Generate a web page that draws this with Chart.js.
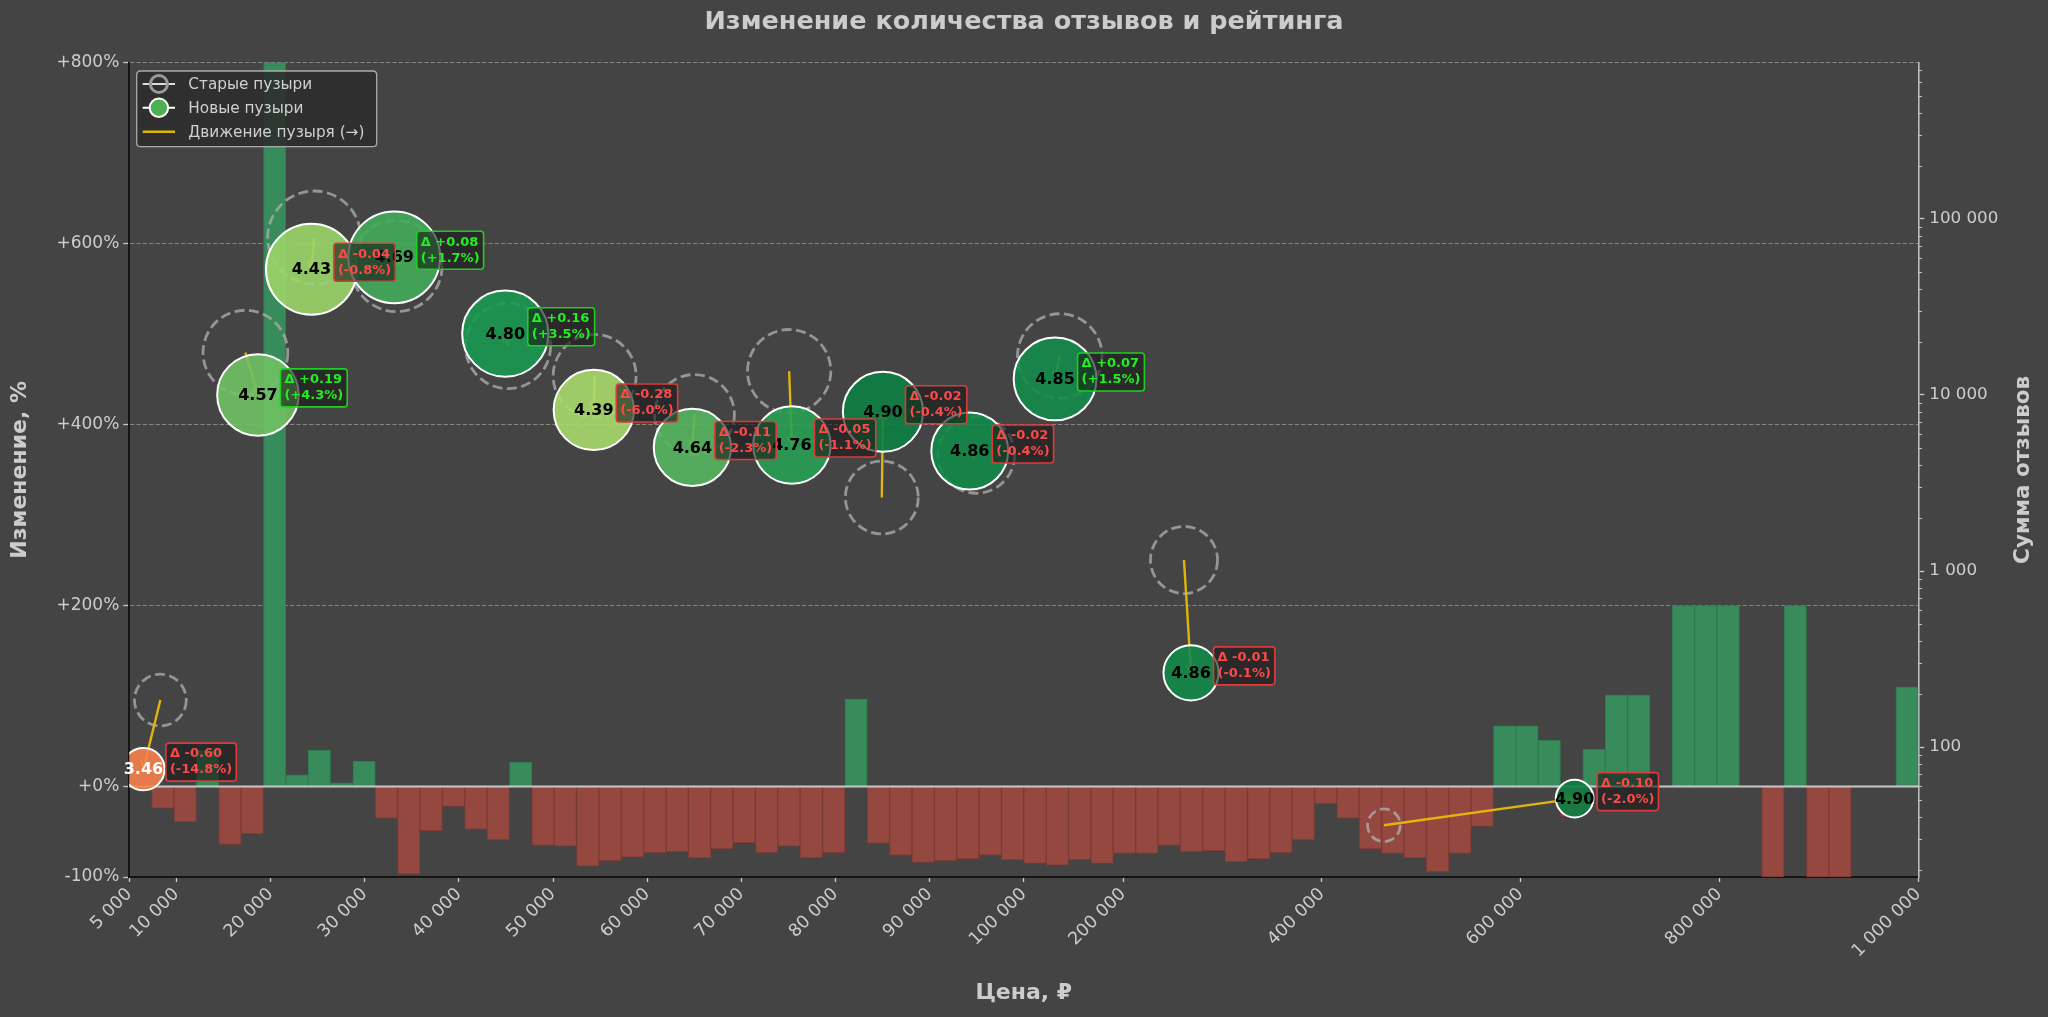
<!DOCTYPE html>
<html lang="ru">
<head>
<meta charset="utf-8">
<title>Изменение количества отзывов и рейтинга</title>
<script src="https://cdn.jsdelivr.net/npm/chart.js"></script>
<style>
html, body { margin:0; padding:0; background:#444444; overflow:hidden; }
#wrap { position:relative; width:2048px; height:1017px; }
</style>
</head>
<body>
<div id="wrap"><canvas id="chart" width="2048" height="1017"></canvas></div>
<script>
// ================= DATA =================
// Price bins (lower edges, ₽): 40 bins 5 000–100 000 and 40 bins 100 000–1 000 000
const binLow = [
  5000, 7375, 9750, 12125, 14500, 16875, 19250, 21625, 24000, 26375,
  28750, 31125, 33500, 35875, 38250, 40625, 43000, 45375, 47750, 50125,
  52500, 54875, 57250, 59625, 62000, 64375, 66750, 69125, 71500, 73875,
  76250, 78625, 81000, 83375, 85750, 88125, 90500, 92875, 95250, 97625,
  100000, 122500, 145000, 167500, 190000, 212500, 235000, 257500, 280000, 302500,
  325000, 347500, 370000, 392500, 415000, 437500, 460000, 482500, 505000, 527500,
  550000, 572500, 595000, 617500, 640000, 662500, 685000, 707500, 730000, 752500,
  775000, 797500, 820000, 842500, 865000, 887500, 910000, 932500, 955000, 977500
];
const binHigh = 1000000;

// Change of review count per price bin, %
const binChangePct = [
  null, -24, -39, 40, -64, -52, 1200, 13, 40, 4,
  28, -35, -97, -49, -22, -47, -59, 27, -65, -66,
  -88, -82, -78, -73, -72, -79, -69, -62, -73, -66,
  -79, -73, 97, -63, -76, -84, -82, -80, -76, -81,
  -85, -87, -81, -85, -74, -74, -65, -72, -71, -83,
  -80, -73, -59, -19, -35, -69, -74, -79, -94, -74,
  -44, 67, 67, 51, -33, 41, 101, 101, null, 200,
  200, 200, null, -100, 200, -100, -100, null, null, 110
];

const tickPrices = [5000, 10000, 20000, 30000, 40000, 50000, 60000, 70000, 80000, 90000,
                    100000, 200000, 400000, 600000, 800000, 1000000];
const leftTicks = [-100, 0, 200, 400, 600, 800];
const rightTicks = [100, 1000, 10000, 100000];

// Bubbles (price groups): rating, delta, old/new position (price, review sum)
const groupRating    = [3.46, 4.57, 4.43, 4.69, 4.80, 4.39, 4.64, 4.76, 4.90, 4.86, 4.85, 4.86, 4.90];
const ratingDelta    = [-0.60, 0.19, -0.04, 0.08, 0.16, -0.28, -0.11, -0.05, -0.02, -0.02, 0.07, -0.01, -0.10];
const ratingDeltaPct = [-14.8, 4.3, -0.8, 1.7, 3.5, -6.0, -2.3, -1.1, -0.4, -0.4, 1.5, -0.1, -2.0];
const oldPrice   = [8300, 17330, 24640, 33380, 45220, 54420, 65020, 75080, 84920, 94960, 136220, 261170, 462300];
const newPrice   = [6500, 18660, 24340, 33140, 44930, 54330, 64800, 75370, 85040, 94260, 131470, 268250, 654200];
const oldReviews = [185, 17380, 78260, 53950, 18960, 12820, 7740, 13640, 2616, 4560, 16630, 1155, 36];
const newReviews = [75, 10000, 51700, 60460, 22270, 8212, 5030, 5195, 8020, 4804, 12320, 264, 51];

// ================= HELPERS =================
const edges = binLow.concat([binHigh]);
function pos(p) {
  for (let i = 0; i < binLow.length; i++) {
    if (p < edges[i + 1] || i === binLow.length - 1) return i + (p - edges[i]) / (edges[i + 1] - edges[i]);
  }
  return 0;
}
function fmt(v) { return Math.round(v).toString().replace(/\B(?=(\d{3})+(?!\d))/g, ' '); }
function rFor(n) { return Math.sqrt(Math.max(570 * Math.log10(n) - 620, 100)); }

const RDYLGN = ['#a50026','#d73027','#f46d43','#fdae61','#fee08b','#ffffbf','#d9ef8b','#a6d96a','#66bd63','#1a9850','#006837'];
function hexRgb(h) { return [parseInt(h.slice(1,3),16), parseInt(h.slice(3,5),16), parseInt(h.slice(5,7),16)]; }
function ratingColor(r, a) {
  const t = Math.min(1, Math.max(0, (r - 3) / 2));
  const s = t * 10; const i = Math.min(9, Math.floor(s)); const f = s - i;
  const c0 = hexRgb(RDYLGN[i]), c1 = hexRgb(RDYLGN[i + 1]);
  const c = c0.map((v, k) => Math.round(v + (c1[k] - v) * f));
  return `rgba(${c[0]},${c[1]},${c[2]},${a})`;
}

const FONT = "'DejaVu Sans', 'Noto Sans', sans-serif";
const C_TEXT = '#cccccc';
const C_GOLD = 'rgba(232,186,10,0.95)';
Chart.defaults.font.family = FONT;
Chart.defaults.color = C_TEXT;

const barData = binLow.map((lo, i) => ({ x: pos((lo + edges[i + 1]) / 2), y: binChangePct[i] }));
const oldData = oldPrice.map((p, i) => ({ x: pos(p), y: oldReviews[i], r: rFor(oldReviews[i]) }));
const newData = newPrice.map((p, i) => ({ x: pos(p), y: newReviews[i], r: rFor(newReviews[i]) }));
const moveData = [];
oldPrice.forEach((p, i) => {
  moveData.push({ x: pos(p), y: oldReviews[i] });
  moveData.push({ x: pos(newPrice[i]), y: newReviews[i] });
  moveData.push({ x: pos(newPrice[i]), y: null });
});

function roundRect(ctx, x, y, w, h, r) {
  ctx.beginPath();
  ctx.moveTo(x + r, y);
  ctx.lineTo(x + w - r, y); ctx.quadraticCurveTo(x + w, y, x + w, y + r);
  ctx.lineTo(x + w, y + h - r); ctx.quadraticCurveTo(x + w, y + h, x + w - r, y + h);
  ctx.lineTo(x + r, y + h); ctx.quadraticCurveTo(x, y + h, x, y + h - r);
  ctx.lineTo(x, y + r); ctx.quadraticCurveTo(x, y, x + r, y);
  ctx.closePath();
}

// ================= PLUGINS =================
const bgPlugin = {
  id: 'bg',
  beforeDraw(chart) {
    const ctx = chart.ctx;
    ctx.save(); ctx.fillStyle = '#444444'; ctx.fillRect(0, 0, chart.width, chart.height); ctx.restore();
  }
};

const layerPlugin = {
  id: 'layers',
  beforeDatasetDraw(chart, args) {
    if (args.index === 1) chart.ctx.setLineDash([10, 4.5]);
  },
  afterDatasetDraw(chart, args) {
    const ctx = chart.ctx;
    if (args.index === 1) ctx.setLineDash([]);
    if (args.index === 0) {
      const y0 = chart.scales.y.getPixelForValue(0);
      ctx.save();
      ctx.strokeStyle = 'rgba(215,215,215,0.9)';
      ctx.lineWidth = 2.2;
      ctx.beginPath(); ctx.moveTo(chart.chartArea.left, y0); ctx.lineTo(chart.chartArea.right, y0); ctx.stroke();
      ctx.restore();
    }
    if (args.index === 2) {
      const { x, y2 } = chart.scales;
      ctx.save();
      ctx.strokeStyle = C_GOLD; ctx.lineWidth = 2;
      oldPrice.forEach((p, i) => {
        const x0 = x.getPixelForValue(pos(p)), yy0 = y2.getPixelForValue(oldReviews[i]);
        const x1 = x.getPixelForValue(pos(newPrice[i])), yy1 = y2.getPixelForValue(newReviews[i]);
        const a = Math.atan2(yy1 - yy0, x1 - x0), L = 9;
        ctx.beginPath();
        ctx.moveTo(x1 - L * Math.cos(a - 0.45), yy1 - L * Math.sin(a - 0.45));
        ctx.lineTo(x1, yy1);
        ctx.lineTo(x1 - L * Math.cos(a + 0.45), yy1 - L * Math.sin(a + 0.45));
        ctx.stroke();
      });
      ctx.restore();
    }
  }
};

const annotPlugin = {
  id: 'annot',
  afterDatasetsDraw(chart) {
    const { ctx, scales: { x, y2 } } = chart;
    ctx.save();
    // ratings inside bubbles
    ctx.textAlign = 'center'; ctx.textBaseline = 'middle';
    ctx.font = `bold 16px ${FONT}`;
    groupRating.forEach((r, i) => {
      const cx = x.getPixelForValue(pos(newPrice[i])), cy = y2.getPixelForValue(newReviews[i]);
      ctx.fillStyle = r < 4 ? '#ffffff' : '#000000';
      ctx.fillText(r.toFixed(2), cx, cy + 1);
    });
    // delta boxes
    ctx.font = `bold 13px ${FONT}`;
    ctx.textAlign = 'left';
    groupRating.forEach((r, i) => {
      const cx = x.getPixelForValue(pos(newPrice[i])), cy = y2.getPixelForValue(newReviews[i]);
      const up = ratingDelta[i] >= 0;
      const l1 = 'Δ ' + (up ? '+' : '') + ratingDelta[i].toFixed(2);
      const l2 = '(' + (up ? '+' : '') + ratingDeltaPct[i].toFixed(1) + '%)';
      const w = Math.max(ctx.measureText(l1).width, ctx.measureText(l2).width) + 8;
      const h = 38;
      const bx = cx + 22.5, by = cy - 7 - h / 2;
      roundRect(ctx, bx, by, w, h, 3);
      ctx.fillStyle = 'rgba(25,25,25,0.62)'; ctx.fill();
      ctx.strokeStyle = up ? '#1fcf1f' : '#dd3a3a'; ctx.lineWidth = 1.6; ctx.stroke();
      ctx.fillStyle = up ? '#22ee22' : '#ff4848';
      ctx.fillText(l1, bx + 4, by + h / 2 - 8);
      ctx.fillText(l2, bx + 4, by + h / 2 + 8);
    });
    ctx.restore();
  },
  afterDraw(chart) {
    const { ctx, scales: { y2 }, chartArea } = chart;
    ctx.save();
    // minor log ticks on the right axis
    ctx.strokeStyle = C_TEXT; ctx.lineWidth = 1;
    for (let d = 10; d <= 100000; d *= 10) {
      for (let m = 2; m <= 9; m++) {
        const v = d * m;
        if (v < y2.min || v > y2.max) continue;
        const yy = Math.round(y2.getPixelForValue(v)) + 0.5;
        ctx.beginPath(); ctx.moveTo(chartArea.right, yy); ctx.lineTo(chartArea.right + 3.5, yy); ctx.stroke();
      }
    }
    // right axis title
    ctx.fillStyle = C_TEXT;
    ctx.font = `bold 21.5px ${FONT}`;
    ctx.textAlign = 'center'; ctx.textBaseline = 'middle';
    ctx.translate(2023.6, (chartArea.top + chartArea.bottom) / 2);
    ctx.rotate(-Math.PI / 2);
    ctx.fillText('Сумма отзывов', 0, 0);
    ctx.restore();

    // legend
    ctx.save();
    const bx = 136.7, by = 71, bw = 240, bh = 75.7;
    roundRect(ctx, bx, by, bw, bh, 4);
    ctx.fillStyle = 'rgba(44,44,44,0.88)'; ctx.fill();
    ctx.strokeStyle = 'rgba(190,190,190,0.85)'; ctx.lineWidth = 1.3; ctx.stroke();
    const rows = [84, 107.8, 131.7];
    const hx0 = 142.7, hx1 = 175, hm = 158.9;
    // old bubbles
    ctx.strokeStyle = '#dddddd'; ctx.lineWidth = 2;
    ctx.beginPath(); ctx.moveTo(hx0, rows[0]); ctx.lineTo(hx1, rows[0]); ctx.stroke();
    ctx.strokeStyle = '#9a9a9a'; ctx.lineWidth = 3;
    ctx.beginPath(); ctx.arc(hm, rows[0], 8.5, 0, Math.PI * 2); ctx.stroke();
    // new bubbles
    ctx.strokeStyle = '#ffffff'; ctx.lineWidth = 2;
    ctx.beginPath(); ctx.moveTo(hx0, rows[1]); ctx.lineTo(hx1, rows[1]); ctx.stroke();
    ctx.fillStyle = '#4caf50';
    ctx.beginPath(); ctx.arc(hm, rows[1], 9.2, 0, Math.PI * 2); ctx.fill(); ctx.stroke();
    // movement
    ctx.strokeStyle = C_GOLD; ctx.lineWidth = 2.5;
    ctx.beginPath(); ctx.moveTo(hx0, rows[2]); ctx.lineTo(hx1, rows[2]); ctx.stroke();
    ctx.fillStyle = '#d0d0d0';
    ctx.font = `15.3px ${FONT}`;
    ctx.textAlign = 'left'; ctx.textBaseline = 'middle';
    ctx.fillText('Старые пузыри', 188.3, rows[0] + 1);
    ctx.fillText('Новые пузыри', 188.3, rows[1] + 1);
    ctx.fillText('Движение пузыря (→)', 188.3, rows[2] + 1);
    ctx.restore();
  }
};

// ================= CHART =================
new Chart(document.getElementById('chart'), {
  type: 'bar',
  data: {
    datasets: [
      {
        type: 'bar', label: 'Изменение, %', data: barData, xAxisID: 'x', yAxisID: 'y',
        backgroundColor: c => (c.parsed && c.parsed.y >= 0) ? '#388b5a' : '#944840',
        borderColor: c => (c.parsed && c.parsed.y >= 0) ? '#2f7a4e' : '#7f3a33',
        borderWidth: 1, barPercentage: 1, categoryPercentage: 1, clip: 0, order: 10
      },
      {
        type: 'bubble', label: 'Старые пузыри', data: oldData, xAxisID: 'x', yAxisID: 'y2',
        backgroundColor: 'rgba(0,0,0,0)', borderColor: 'rgba(172,172,172,0.78)', borderWidth: 2.8,
        clip: 0, order: 5
      },
      {
        type: 'line', label: 'Движение пузыря (→)', data: moveData, xAxisID: 'x', yAxisID: 'y2',
        borderColor: C_GOLD, borderWidth: 2.4, pointRadius: 0, spanGaps: false, fill: false, order: 4
      },
      {
        type: 'bubble', label: 'Новые пузыри', data: newData, xAxisID: 'x', yAxisID: 'y2',
        backgroundColor: c => ratingColor(groupRating[c.dataIndex], 0.9),
        borderColor: '#ffffff', borderWidth: 2, clip: 0, order: 1
      }
    ]
  },
  options: {
    responsive: false,
    devicePixelRatio: 1,
    animation: false,
    events: [],
    layout: { padding: 0 },
    plugins: {
      legend: { display: false },
      tooltip: { enabled: false },
      title: {
        display: true, text: 'Изменение количества отзывов и рейтинга', color: C_TEXT,
        font: { size: 25.5, weight: 'bold' }, padding: { top: 6.7, bottom: 25.4 }
      }
    },
    scales: {
      x: {
        type: 'linear', position: 'bottom', min: 0, max: 80, offset: false,
        afterFit: s => { s.height = 140; },
        afterBuildTicks: s => { s.ticks = tickPrices.map(p => ({ value: pos(p) })); },
        ticks: {
          autoSkip: false, maxRotation: 45, minRotation: 45, color: C_TEXT,
          font: { size: 17.5 }, padding: 2,
          callback: (v, i) => fmt(tickPrices[i])
        },
        grid: { drawOnChartArea: false, drawTicks: true, tickLength: 5, tickColor: C_TEXT, tickWidth: 1.3, offset: false },
        border: { display: true, color: '#151515', width: 2 },
        title: { display: true, text: 'Цена, ₽', color: C_TEXT, font: { size: 22, weight: 'bold' }, padding: { top: 0, bottom: 10.8 } }
      },
      y: {
        type: 'linear', position: 'left', min: -100, max: 800,
        afterFit: s => { s.width = 129.3; },
        afterBuildTicks: s => { s.ticks = leftTicks.map(v => ({ value: v })); },
        ticks: { color: C_TEXT, font: { size: 17 }, padding: 4, callback: v => (v >= 0 ? '+' : '') + v + '%' },
        grid: {
          color: c => (c.tick && c.tick.value > 0) ? 'rgba(150,150,150,0.8)' : 'rgba(0,0,0,0)',
          lineWidth: 1, drawTicks: true, tickLength: 6, tickColor: C_TEXT, tickWidth: 1.3
        },
        border: { display: true, color: '#151515', width: 2, dash: [4.4, 2] },
        title: { display: true, text: 'Изменение, %', color: C_TEXT, font: { size: 22, weight: 'bold' }, padding: { top: 6.8, bottom: 0 } }
      },
      y2: {
        type: 'logarithmic', position: 'right', min: 18.3, max: 770000,
        afterFit: s => { s.width = 129.7; },
        afterBuildTicks: s => { s.ticks = rightTicks.map(v => ({ value: v, major: true })); },
        ticks: { autoSkip: false, color: C_TEXT, font: { size: 16.7 }, padding: 5, callback: v => fmt(v) },
        grid: { drawOnChartArea: false, drawTicks: true, tickLength: 6, tickColor: C_TEXT, tickWidth: 1.3 },
        border: { display: true, color: '#bbbbbb', width: 1.6 }
      }
    }
  },
  plugins: [bgPlugin, layerPlugin, annotPlugin]
});
</script>
</body>
</html>
